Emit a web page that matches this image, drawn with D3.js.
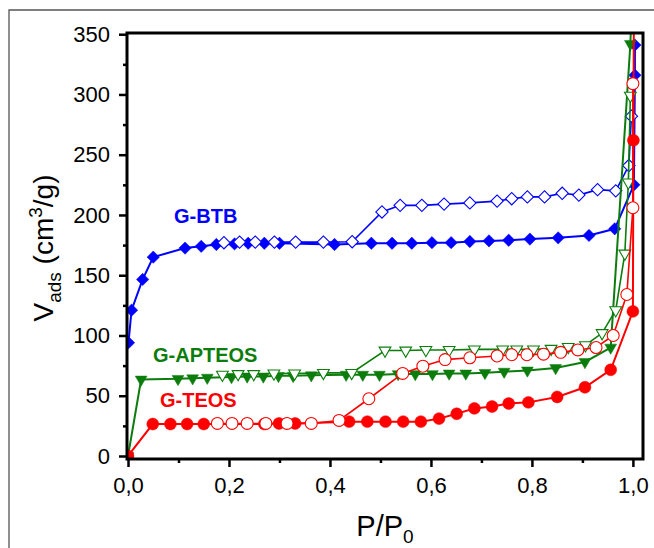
<!DOCTYPE html>
<html>
<head>
<meta charset="utf-8">
<script src="https://cdn.jsdelivr.net/npm/d3@7"></script>
<style>
  body { margin: 0; background: #fff; }
  svg text { font-family: Arial, "Liberation Sans", sans-serif; }
</style>
</head>
<body>
<div id="graphe"></div>
<script>
// isothermes [P/P0, Vads]
var btbAds = [[0.001,94],[0.007,121],[0.029,146.5],[0.05,165],[0.113,172.5],[0.145,174],[0.175,175.5],[0.211,176],[0.238,176.5],[0.27,176.5],[0.3,176.5],[0.409,175.5],[0.482,176.5],[0.523,176.5],[0.562,176.5],[0.602,177],[0.64,177],[0.677,178],[0.715,178.5],[0.754,179],[0.796,180],[0.852,181],[0.913,183],[0.964,188.5],[1.002,225],[1.004,316],[1.004,341]];
var btbDes = [[0.997,282],[0.992,241],[0.966,220],[0.93,221],[0.893,216.5],[0.86,218],[0.825,215],[0.791,215],[0.76,213.5],[0.731,211.5],[0.677,210],[0.626,209],[0.582,208],[0.539,208],[0.503,202.5],[0.444,177.8],[0.387,177.5],[0.332,177.5],[0.29,177.5],[0.252,177.5],[0.221,177.5],[0.19,177]];
var apteosAds = [[0,0],[0.026,63.5],[0.099,64],[0.128,64.5],[0.157,65],[0.205,65.5],[0.236,66],[0.268,66],[0.298,66.5],[0.327,66.5],[0.363,67],[0.432,67.5],[0.465,67.5],[0.498,67.5],[0.535,68],[0.569,68],[0.603,68],[0.636,68.5],[0.669,68.5],[0.707,69],[0.745,70],[0.791,71],[0.847,73],[0.905,78],[0.956,90],[0.995,342],[0.998,380]];
var apteosDes = [[0.995,299],[0.991,227],[0.984,168],[0.966,121],[0.939,102],[0.906,92],[0.872,90.5],[0.838,89],[0.803,88.5],[0.77,88.5],[0.742,88.5],[0.686,88.5],[0.636,88],[0.59,88],[0.55,87.5],[0.509,87.5],[0.443,69],[0.387,69],[0.33,68.5],[0.289,68.5],[0.249,68],[0.218,68],[0.187,67.5]];
var teosAds = [[0,0],[0.049,26.5],[0.084,26.5],[0.117,26.5],[0.15,26.5],[0.27,26.5],[0.299,27],[0.331,27],[0.438,28.5],[0.474,28.5],[0.51,28.5],[0.545,28.5],[0.58,28.5],[0.616,31],[0.651,35],[0.686,39.5],[0.721,41],[0.754,43.5],[0.793,44.5],[0.85,49],[0.905,57],[0.956,71.5],[1.0,120],[1.001,262],[1.002,380]];
var teosDes = [[1.0,309],[1.0,206],[0.988,134],[0.961,100],[0.927,90],[0.891,88],[0.857,86],[0.823,84.5],[0.79,84],[0.76,84],[0.731,83],[0.677,81.5],[0.628,80],[0.584,74.5],[0.544,68.5],[0.477,47.5],[0.418,29.5],[0.363,27],[0.315,27],[0.273,27],[0.236,27],[0.206,27],[0.177,27]];

var xTicks = [0, 0.2, 0.4, 0.6, 0.8, 1.0];
var xMinor = [0.1, 0.3, 0.5, 0.7, 0.9];
var yTicks = [0, 50, 100, 150, 200, 250, 300, 350];
var yMinor = [25, 75, 125, 175, 225, 275, 325];

var bleu = "#0000ff", vert = "#0c7d0c", rouge = "#ff0000";

var largeur = 654, hauteur = 548;
var gauche = 127, droite = 643, haut = 33, bas = 459;

var svg = d3.select("#graphe").append("svg").attr("width", largeur).attr("height", hauteur);

// cadre gris autour de la figure
svg.append("path").attr("d", "M9," + hauteur + " L9,10 L" + largeur + ",10")
   .style("fill", "none").style("stroke", "#555").style("stroke-width", 1.3);

var x = d3.scaleLinear().domain([-0.002, 1.02]).range([gauche, droite]);
var y = d3.scaleLinear().domain([-2.5, 351]).range([bas, haut]);

var virgule = function(d) { return d3.format(".1f")(d).replace(".", ","); };

// axes
svg.append("g").attr("transform", "translate(0," + bas + ")")
   .call(d3.axisBottom(x).tickValues(xTicks).tickFormat(virgule).tickSize(8).tickPadding(10).tickSizeOuter(0));
svg.append("g").attr("transform", "translate(0," + bas + ")")
   .call(d3.axisBottom(x).tickValues(xMinor).tickFormat("").tickSize(4).tickSizeOuter(0));
svg.append("g").attr("transform", "translate(" + gauche + ",0)")
   .call(d3.axisLeft(y).tickValues(yTicks).tickSize(8).tickPadding(9).tickSizeOuter(0));
svg.append("g").attr("transform", "translate(" + gauche + ",0)")
   .call(d3.axisLeft(y).tickValues(yMinor).tickFormat("").tickSize(4).tickSizeOuter(0));
svg.selectAll(".domain").remove();
svg.selectAll(".tick line").style("stroke", "#000").style("stroke-width", 2.5);
svg.selectAll(".tick text").style("font-size", "22px").style("fill", "#000");

// zone de tracé
svg.append("clipPath").attr("id", "zone").append("rect")
   .attr("x", gauche).attr("y", haut).attr("width", droite - gauche).attr("height", bas - haut);
var trace = svg.append("g").attr("clip-path", "url(#zone)");

var ligne = d3.line().x(function(d) { return x(d[0]); }).y(function(d) { return y(d[1]); });

function symbole(type) {
   if (type == "losange") return { path: d3.symbol(d3.symbolSquare, 76)(), rot: 45 };
   if (type == "triangle") return { path: d3.symbol(d3.symbolTriangle, 60)(), rot: 180 };
   return { path: d3.symbol(d3.symbolCircle, 112)(), rot: 0 };
}

function serie(donnees, couleur, type, plein) {
   trace.append("path").attr("d", ligne(donnees))
      .style("fill", "none").style("stroke", couleur).style("stroke-width", plein ? 2 : 1.6);
   var s = symbole(type);
   trace.selectAll(null).data(donnees).enter().append("path")
      .attr("d", s.path)
      .attr("transform", function(d) { return "translate(" + x(d[0]) + "," + y(d[1]) + ") rotate(" + s.rot + ")"; })
      .style("fill", plein ? couleur : "#fff")
      .style("stroke", couleur)
      .style("stroke-width", plein ? 0.5 : 1.1);
}

serie(btbAds, bleu, "losange", true);
serie(btbDes, bleu, "losange", false);
serie(apteosAds, vert, "triangle", true);
serie(apteosDes, vert, "triangle", false);
serie(teosAds, rouge, "cercle", true);
serie(teosDes, rouge, "cercle", false);

// cadre noir
svg.append("rect").attr("x", gauche).attr("y", haut).attr("width", droite - gauche).attr("height", bas - haut)
   .style("fill", "none").style("stroke", "#000").style("stroke-width", 3);

// étiquettes des échantillons
svg.append("text").attr("x", 174).attr("y", 223).text("G-BTB")
   .style("font-size", "20px").style("font-weight", "bold").style("fill", bleu);
svg.append("text").attr("x", 153).attr("y", 362).text("G-APTEOS")
   .style("font-size", "20px").style("font-weight", "bold").style("fill", vert);
svg.append("text").attr("x", 160).attr("y", 407).text("G-TEOS")
   .style("font-size", "20px").style("font-weight", "bold").style("fill", rouge);

// titres des axes
var tx = svg.append("text").attr("x", (gauche + droite) / 2).attr("y", 536)
   .attr("text-anchor", "middle").style("font-size", "29px");
tx.append("tspan").text("P/P");
tx.append("tspan").attr("dy", 7).style("font-size", "19px").text("0");

var ty = svg.append("text").attr("transform", "translate(53,248) rotate(-90)")
   .attr("text-anchor", "middle").style("font-size", "28px");
ty.append("tspan").text("V");
ty.append("tspan").attr("dy", 8).style("font-size", "19px").text("ads");
ty.append("tspan").attr("dy", -8).text(" (cm");
ty.append("tspan").attr("dy", -11).style("font-size", "19px").text("3");
ty.append("tspan").attr("dy", 11).text("/g)");
</script>
</body>
</html>
